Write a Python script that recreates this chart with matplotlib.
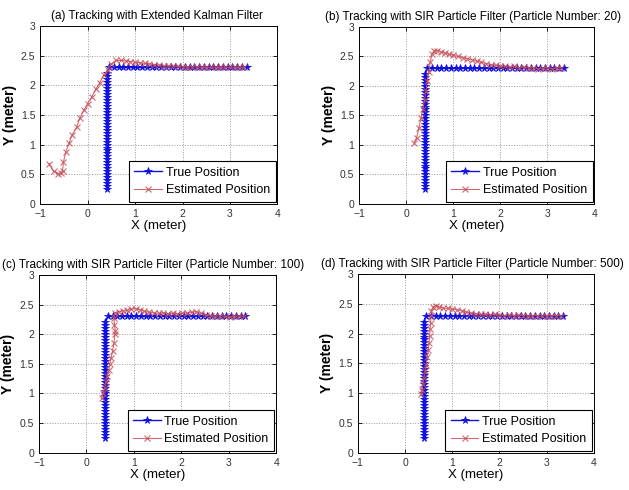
import matplotlib

matplotlib.use("Agg")
import matplotlib.pyplot as plt

plt.rcParams["font.family"] = ["Liberation Sans", "DejaVu Sans"]

# true trajectory: up along x=0.4, then right along y=2.3
true_x = [
    0.4, 0.4, 0.4, 0.4, 0.4, 0.4, 0.4, 0.4, 0.4, 0.4,
    0.4, 0.4, 0.4, 0.4, 0.4, 0.4, 0.4, 0.4, 0.4, 0.4,
    0.4, 0.4, 0.4, 0.4, 0.4, 0.4, 0.4, 0.4, 0.4, 0.4,
    0.4, 0.4, 0.4, 0.4, 0.4, 0.4, 0.4, 0.4, 0.4, 0.4,
    0.45, 0.55, 0.65, 0.75, 0.85, 0.95, 1.05, 1.15, 1.25, 1.35,
    1.45, 1.55, 1.65, 1.75, 1.85, 1.95, 2.05, 2.15, 2.25, 2.35,
    2.45, 2.55, 2.65, 2.75, 2.85, 2.95, 3.05, 3.15, 3.25, 3.35,
]
true_y = [
    0.25, 0.30, 0.35, 0.40, 0.45, 0.50, 0.55, 0.60, 0.65, 0.70,
    0.75, 0.80, 0.85, 0.90, 0.95, 1.00, 1.05, 1.10, 1.15, 1.20,
    1.25, 1.30, 1.35, 1.40, 1.45, 1.50, 1.55, 1.60, 1.65, 1.70,
    1.75, 1.80, 1.85, 1.90, 1.95, 2.00, 2.05, 2.10, 2.15, 2.20,
    2.30, 2.30, 2.30, 2.30, 2.30, 2.30, 2.30, 2.30, 2.30, 2.30,
    2.30, 2.30, 2.30, 2.30, 2.30, 2.30, 2.30, 2.30, 2.30, 2.30,
    2.30, 2.30, 2.30, 2.30, 2.30, 2.30, 2.30, 2.30, 2.30, 2.30,
]

# (a) extended Kalman filter estimate
ekf_x = [
    -0.82, -0.72, -0.62, -0.56, -0.53, -0.51, -0.46, -0.39, -0.33, -0.23,
    -0.17, -0.08, 0.0, 0.09, 0.17, 0.25, 0.34, 0.42, 0.5, 0.6,
    0.7, 0.8, 0.9, 1.0, 1.1, 1.2, 1.3, 1.4, 1.5, 1.6,
    1.7, 1.8, 1.9, 2.0, 2.1, 2.2, 2.3, 2.4, 2.5, 2.6,
    2.7, 2.8, 2.9, 3.0, 3.1, 3.2, 3.3,
]
ekf_y = [
    0.68, 0.55, 0.51, 0.52, 0.56, 0.71, 0.88, 1.03, 1.16, 1.30,
    1.44, 1.58, 1.69, 1.81, 1.93, 2.04, 2.17, 2.26, 2.36, 2.42,
    2.42, 2.41, 2.40, 2.39, 2.38, 2.37, 2.36, 2.35, 2.34, 2.33,
    2.33, 2.32, 2.32, 2.31, 2.31, 2.31, 2.31, 2.30, 2.30, 2.30,
    2.30, 2.30, 2.30, 2.30, 2.30, 2.30, 2.30,
]

# (b) SIR particle filter, 20 particles
pf20_x = [
    0.17, 0.22, 0.27, 0.31, 0.35, 0.39, 0.42, 0.45, 0.48, 0.51,
    0.55, 0.60, 0.66, 0.74, 0.82, 0.90, 1.0, 1.1, 1.2, 1.3,
    1.4, 1.5, 1.6, 1.7, 1.8, 1.9, 2.0, 2.1, 2.2, 2.3,
    2.4, 2.5, 2.6, 2.7, 2.8, 2.9, 3.0, 3.1, 3.2, 3.3,
]
pf20_y = [
    1.04, 1.12, 1.28, 1.45, 1.60, 1.76, 1.92, 2.08, 2.24, 2.40,
    2.54, 2.60, 2.60, 2.58, 2.56, 2.54, 2.52, 2.50, 2.48, 2.46,
    2.44, 2.42, 2.40, 2.38, 2.36, 2.35, 2.34, 2.33, 2.32, 2.33,
    2.31, 2.32, 2.30, 2.31, 2.29, 2.30, 2.31, 2.29, 2.30, 2.30,
]

# (c) SIR particle filter, 100 particles
pf100_x = [
    0.32, 0.35, 0.39, 0.42, 0.44, 0.47, 0.49, 0.52, 0.55, 0.58,
    0.60, 0.61, 0.59, 0.58, 0.60, 0.68, 0.77, 0.86, 0.95, 1.04,
    1.13, 1.22, 1.32, 1.42, 1.52, 1.62, 1.72, 1.82, 1.92, 2.02,
    2.12, 2.22, 2.32, 2.42, 2.52, 2.62, 2.72, 2.82, 2.92, 3.02,
    3.12, 3.22, 3.32,
]
pf100_y = [
    0.93, 1.00, 1.09, 1.19, 1.29, 1.39, 1.49, 1.60, 1.71, 1.85,
    2.00, 2.05, 2.16, 2.28, 2.36, 2.38, 2.39, 2.40, 2.42, 2.43,
    2.41, 2.39, 2.37, 2.36, 2.35, 2.36, 2.34, 2.35, 2.34, 2.35,
    2.36, 2.37, 2.38, 2.35, 2.32, 2.31, 2.30, 2.31, 2.30, 2.29,
    2.30, 2.30, 2.30,
]

# (d) SIR particle filter, 500 particles
pf500_x = [
    0.33, 0.35, 0.38, 0.40, 0.43, 0.45, 0.47, 0.49, 0.51, 0.52,
    0.53, 0.54, 0.55, 0.56, 0.60, 0.66, 0.72, 0.80, 0.90, 1.0,
    1.1, 1.2, 1.3, 1.4, 1.5, 1.6, 1.7, 1.8, 1.9, 2.0,
    2.1, 2.2, 2.3, 2.4, 2.5, 2.6, 2.7, 2.8, 2.9, 3.0,
    3.1, 3.2, 3.3,
]
pf500_y = [
    0.98, 1.05, 1.15, 1.26, 1.37, 1.48, 1.60, 1.72, 1.84, 1.96,
    2.08, 2.18, 2.29, 2.38, 2.45, 2.47, 2.44, 2.43, 2.42, 2.41,
    2.40, 2.38, 2.36, 2.34, 2.33, 2.32, 2.32, 2.31, 2.32, 2.31,
    2.30, 2.31, 2.30, 2.31, 2.30, 2.29, 2.30, 2.30, 2.29, 2.30,
    2.30, 2.30, 2.30,
]

titles = [
    "(a) Tracking with Extended Kalman Filter",
    "(b) Tracking with SIR Particle Filter (Particle Number: 20)",
    "(c) Tracking with SIR Particle Filter (Particle Number: 100)",
    "(d) Tracking with SIR Particle Filter (Particle Number: 500)",
]
estimates = [(ekf_x, ekf_y), (pf20_x, pf20_y), (pf100_x, pf100_y), (pf500_x, pf500_y)]
x_ticks = [-1, 0, 1, 2, 3, 4]
y_ticks = [0, 0.5, 1, 1.5, 2, 2.5, 3]
y_tick_labels = ["0", "0.5", "1", "1.5", "2", "2.5", "3"]

# axes rectangles in figure fractions (left, bottom, width, height)
rects = [
    (0.064, 0.584, 0.377, 0.363),
    (0.571, 0.584, 0.374, 0.361),
    (0.062, 0.076, 0.377, 0.363),
    (0.569, 0.076, 0.375, 0.365),
]
# horizontal centre of each title, in axes fraction
title_x = [0.49, 0.483, 0.483, 0.487]

fig = plt.figure(figsize=(6.29, 4.90), dpi=100)

for rect, title, tx, (est_x, est_y) in zip(rects, titles, title_x, estimates):
    ax = fig.add_axes(rect)
    ax.plot(true_x, true_y, color="#1010e0", linewidth=1.0, marker="*",
            markersize=5.5, markeredgewidth=0.6, label="True Position", zorder=2)
    ax.plot(est_x, est_y, color="#c8505a", linewidth=0.8, marker="x",
            markersize=4.5, markeredgewidth=0.8, alpha=0.85,
            label="Estimated Position", zorder=3)
    ax.set_xlim(-1, 4)
    ax.set_ylim(0, 3)
    ax.set_xticks(x_ticks)
    ax.set_yticks(y_ticks)
    ax.set_yticklabels(y_tick_labels)
    ax.tick_params(direction="in", labelsize=7.5, length=3, width=0.6,
                   top=True, right=True, labelcolor="#333333")
    ax.grid(True, linestyle=":", color="#999999", linewidth=0.7)
    for spine in ax.spines.values():
        spine.set_linewidth(0.7)
    ax.set_title(title, fontsize=8.5, pad=5, x=tx)
    ax.set_xlabel("X (meter)", fontsize=9.5, labelpad=1)
    ax.set_ylabel("Y (meter)", fontsize=10, fontweight="bold", labelpad=3)
    leg = ax.legend(loc="lower right", fontsize=9, fancybox=False,
                    edgecolor="black", framealpha=1, borderpad=0.45,
                    handlelength=2.2, handletextpad=0.3, labelspacing=0.45,
                    borderaxespad=0.15)
    leg.get_frame().set_linewidth(0.8)

fig.savefig("out.png", dpi=100)
plt.close(fig)
